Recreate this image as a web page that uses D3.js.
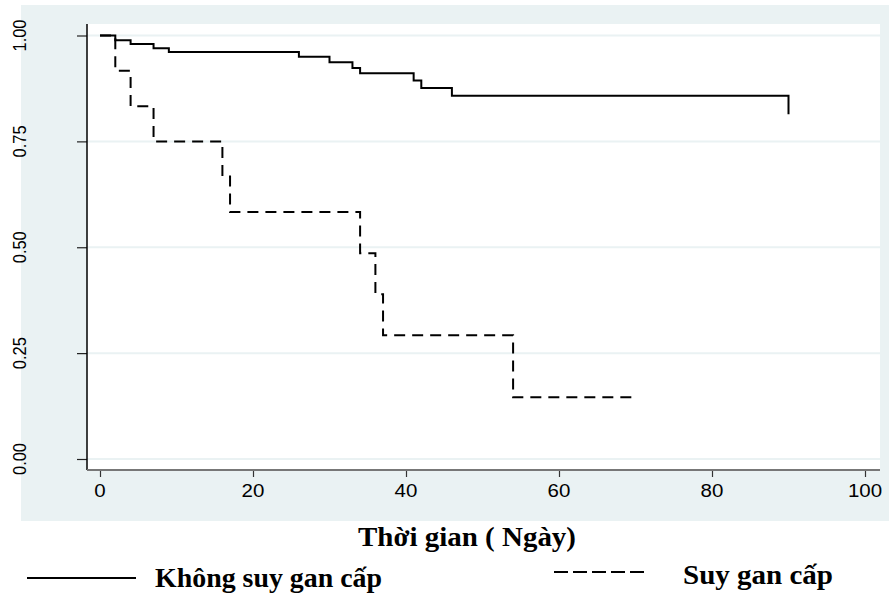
<!DOCTYPE html>
<html>
<head>
<meta charset="utf-8">
<script src="https://cdn.jsdelivr.net/npm/d3@7"></script>
<style>
  body { margin: 0; background: #fff; }
  svg { display: block; }
  .tick-label { font-family: 'Liberation Sans', Arial, sans-serif; font-size: 18px; fill: #000; }
  .big { font-family: 'Liberation Serif', 'Times New Roman', serif; font-weight: bold; font-size: 27px; fill: #000; }
</style>
</head>
<body>
<svg></svg>
<script>
    // Kaplan-Meier steps
    var timesNo = [0, 2, 4, 7, 9, 26, 30, 33, 34, 41, 42, 46, 90];
    var survNo  = [1, 0.989, 0.980, 0.970, 0.961, 0.950, 0.937, 0.923, 0.911, 0.894, 0.876, 0.858, 0.814];

    var timesYes = [0, 2, 4, 7, 16, 17, 34, 36, 37, 54, 70];
    var survYes  = [1, 0.917, 0.833, 0.75, 0.667, 0.583, 0.486, 0.389, 0.292, 0.146, 0.146];

    var xTicks = [0, 20, 40, 60, 80, 100];
    var yTicks = [0, 0.25, 0.5, 0.75, 1];
    var xTitle = 'Thời gian ( Ngày)';
    var legendLabels = ['Không suy gan cấp', 'Suy gan cấp'];

    var W = 889, H = 594;
    var svg = d3.select('svg').attr('width', W).attr('height', H);

    var x = d3.scaleLinear().domain([0, 100]).range([100, 865]);
    var y = d3.scaleLinear().domain([0, 1]).range([459, 35.5]);

    // outer panel + plot region
    svg.append('rect').attr('x', 21).attr('y', 5).attr('width', W - 21).attr('height', 516).attr('fill', '#eaf2f3');
    svg.append('rect').attr('x', 87).attr('y', 24).attr('width', 793).attr('height', 446).attr('fill', '#fff');

    // gridlines
    svg.append('g').selectAll('line').data(yTicks).enter().append('line')
        .attr('x1', 87).attr('x2', 880)
        .attr('y1', function(d) { return y(d); }).attr('y2', function(d) { return y(d); })
        .attr('stroke', '#eaf2f3').attr('stroke-width', 2);

    // y axis
    var yAxis = d3.axisLeft(y).tickValues(yTicks).tickSize(10).tickFormat('');
    var gy = svg.append('g').attr('transform', 'translate(87,0)').call(yAxis);
    gy.select('.domain').remove();
    gy.selectAll('.tick line').attr('stroke', '#222').attr('stroke-width', 1.2);
    svg.append('line').attr('x1', 87).attr('x2', 87).attr('y1', 24).attr('y2', 470)
        .attr('stroke', '#000').attr('stroke-width', 1.5);

    svg.append('g').selectAll('text').data(yTicks).enter().append('text')
        .attr('class', 'tick-label')
        .attr('transform', function(d) { return 'translate(20,' + y(d) + ')rotate(-90)'; })
        .attr('text-anchor', 'middle')
        .attr('dy', '0.36em')
        .attr('textLength', 32).attr('lengthAdjust', 'spacingAndGlyphs')
        .text(d3.format('.2f'));

    // x axis
    var xAxis = d3.axisBottom(x).tickValues(xTicks).tickSize(7).tickFormat('');
    var gx = svg.append('g').attr('transform', 'translate(0,470)').call(xAxis);
    gx.select('.domain').remove();
    gx.selectAll('.tick line').attr('stroke', '#333').attr('stroke-width', 1.2);
    svg.append('line').attr('x1', 87).attr('x2', 880).attr('y1', 470).attr('y2', 470)
        .attr('stroke', '#777').attr('stroke-width', 2);

    svg.append('g').selectAll('text').data(xTicks).enter().append('text')
        .attr('class', 'tick-label')
        .attr('x', function(d) { return x(d); })
        .attr('y', 497)
        .attr('text-anchor', 'middle')
        .attr('textLength', function(d) { return String(d).length * 11.4; })
        .attr('lengthAdjust', 'spacingAndGlyphs')
        .text(function(d) { return d; });

    // survival curves
    var line = d3.line()
        .x(function(d) { return x(d[0]); })
        .y(function(d) { return y(d[1]); })
        .curve(d3.curveStepAfter);

    svg.append('path')
        .datum(d3.zip(timesNo, survNo))
        .attr('d', line)
        .attr('fill', 'none').attr('stroke', '#000').attr('stroke-width', 2);

    svg.append('path')
        .datum(d3.zip(timesYes, survYes))
        .attr('d', line)
        .attr('fill', 'none').attr('stroke', '#000').attr('stroke-width', 2)
        .attr('stroke-dasharray', '11,7');

    // axis title
    svg.append('text').attr('class', 'big')
        .attr('x', 358).attr('y', 546)
        .attr('textLength', 218).attr('lengthAdjust', 'spacingAndGlyphs')
        .text(xTitle);

    // legend
    svg.append('line').attr('x1', 27).attr('x2', 136).attr('y1', 578).attr('y2', 578)
        .attr('stroke', '#000').attr('stroke-width', 2);
    svg.append('text').attr('class', 'big')
        .attr('x', 155).attr('y', 587)
        .attr('textLength', 227).attr('lengthAdjust', 'spacingAndGlyphs')
        .text(legendLabels[0]);

    svg.append('line').attr('x1', 554).attr('x2', 648).attr('y1', 572).attr('y2', 572)
        .attr('stroke', '#000').attr('stroke-width', 2.2)
        .attr('stroke-dasharray', '14,5');
    svg.append('text').attr('class', 'big')
        .attr('x', 683).attr('y', 584)
        .attr('textLength', 150).attr('lengthAdjust', 'spacingAndGlyphs')
        .text(legendLabels[1]);
</script>
</body>
</html>
